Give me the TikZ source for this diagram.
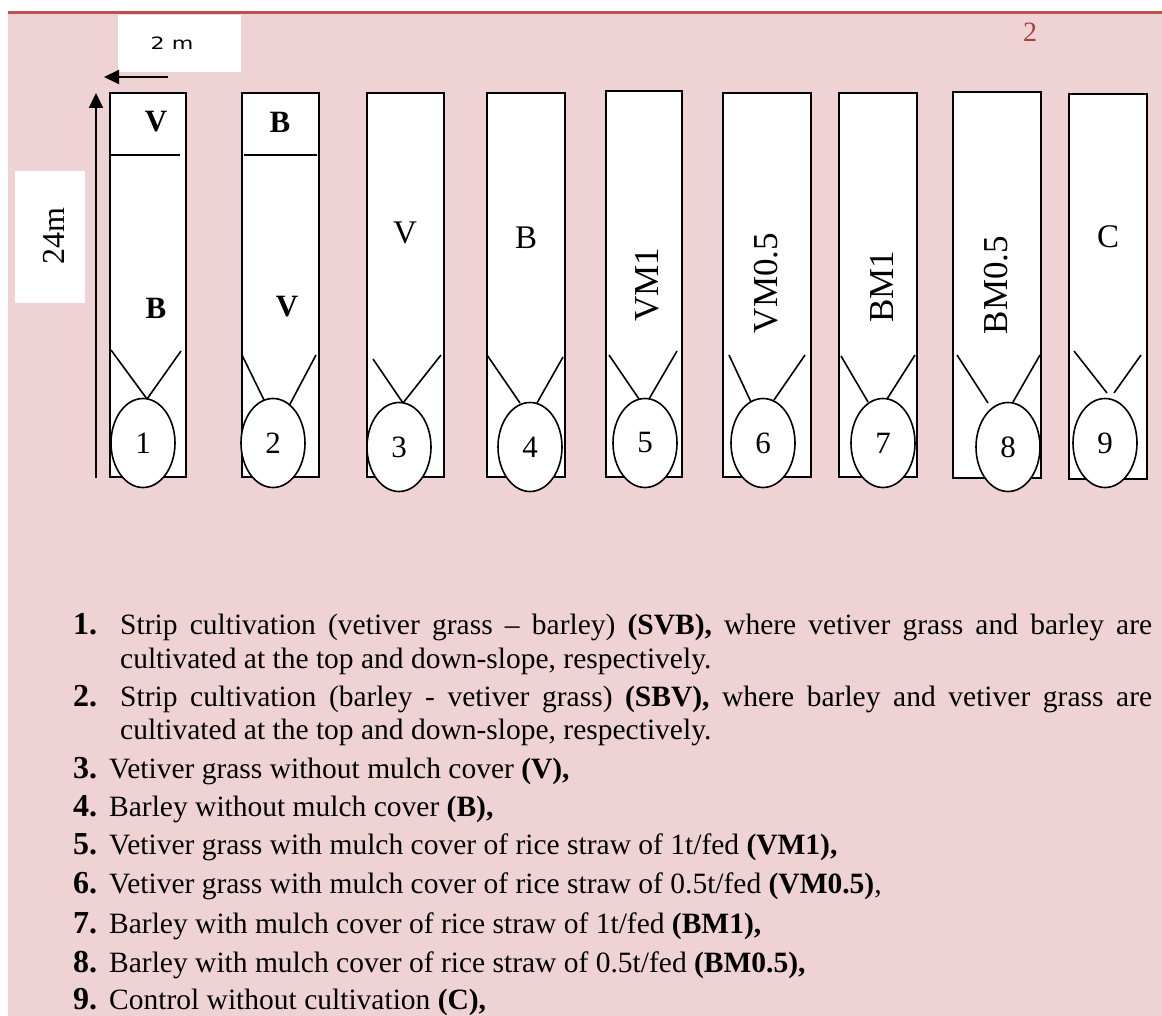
\documentclass[tikz,border=0pt]{standalone}
\usepackage{fontspec}
\setmainfont{Liberation Serif}
\newfontfamily\sansf{DejaVu Sans}
\usetikzlibrary{shapes.geometric,arrows.meta}
\definecolor{pinkbg}{HTML}{EFD3D4}
\definecolor{redline}{HTML}{C0504D}
\definecolor{pagenum}{HTML}{A8403D}
\begin{document}
\begin{tikzpicture}[x=1pt,y=-1pt,
 stripbox/.style={draw, line width=1.8pt, fill=white, anchor=north west, inner sep=0pt, outer sep=0pt},
 ellnum/.style={ellipse, draw, line width=1.6pt, fill=white, minimum width=64pt, minimum height=89pt, inner sep=0pt, font=\fontsize{31}{36}\selectfont},
 funnel/.style={line width=1.6pt},
 lbl/.style={font=\fontsize{33}{38}\selectfont, inner sep=0pt},
 blbl/.style={font=\bfseries\fontsize{31}{36}\selectfont, inner sep=0pt},
 rlbl/.style={font=\fontsize{35}{40}\selectfont, inner sep=0pt, rotate=90},
 inum/.style={anchor=base west, inner sep=0pt, font=\bfseries\fontsize{32}{36}\selectfont},
 itxt/.style={anchor=base west, inner sep=0pt, font=\fontsize{29.5}{34}\selectfont},
 whitebox/.style={fill=white, draw=none, anchor=north west, inner sep=0pt},
 arr/.style={line width=2pt, -{Triangle[length=15pt,width=14pt]}}
]
\useasboundingbox (0,0) rectangle (1162,1016);
\fill[pinkbg] (8,14) rectangle (1162,1016);
\draw[redline, line width=3pt] (8,12.5) -- (1162,12.5);
\node[text=pagenum, font=\fontsize{28}{32}\selectfont, inner sep=0pt] (pg) at (1030,32) {2};

% scale boxes
\node[whitebox, minimum width=123pt, minimum height=57pt] (bx2m) at (118,15) {};
\node[font=\sansf\fontsize{17}{20}\selectfont, inner sep=0pt] (l2m) at (172,43) {\scalebox{1.3}[1]{2 m}};
\node[whitebox, minimum width=70pt, minimum height=132pt] (bx24) at (15,171) {};
\node[inner sep=0pt, rotate=90, font=\fontsize{32}{36}\selectfont] (l24) at (54,236) {24m};
\coordinate (a2s) at (168,77);
\coordinate (a2e) at (104,77);
\draw[arr] (a2s) -- (a2e);
\coordinate (a24s) at (96,478);
\coordinate (a24e) at (96,93);
\draw[arr] (a24s) -- (a24e);

% strips
\node[stripbox, minimum width=76pt, minimum height=384pt] (s1) at (110,93) {};
\node[stripbox, minimum width=77pt, minimum height=384pt] (s2) at (242,93) {};
\node[stripbox, minimum width=77pt, minimum height=384pt] (s3) at (367,93) {};
\node[stripbox, minimum width=78pt, minimum height=384pt] (s4) at (487,93) {};
\node[stripbox, minimum width=76pt, minimum height=386pt] (s5) at (606,91) {};
\node[stripbox, minimum width=88pt, minimum height=384pt] (s6) at (723,93) {};
\node[stripbox, minimum width=78pt, minimum height=384pt] (s7) at (839,93) {};
\node[stripbox, minimum width=88pt, minimum height=386pt] (s8) at (953,92) {};
\node[stripbox, minimum width=78pt, minimum height=385pt] (s9) at (1069,94) {};

% dividers in strips 1 and 2
\draw[line width=1.8pt] (110,155) -- (180,155);
\draw[line width=1.8pt] (244,155) -- (317,155);

% labels
\node[blbl] (t1a) at (156,122) {V};
\node[blbl] (t1b) at (156,308) {B};
\node[blbl] (t2a) at (280,122) {B};
\node[blbl] (t2b) at (287,307) {V};
\node[lbl] (t3) at (405,233) {V};
\node[lbl] (t4) at (526,238) {B};
\node[rlbl] (t5) at (647,285) {VM1};
\node[rlbl] (t6) at (766,283) {VM0.5};
\node[rlbl] (t7) at (882,287) {BM1};
\node[rlbl] (t8) at (996,285) {BM0.5};
\node[lbl] (t9) at (1108,237) {C};

% funnel lines
\draw[funnel] (111,350) -- (147,399) -- (181,351);
\draw[funnel] (242,355) -- (264,400);
\draw[funnel] (316,355) -- (289,406);
\draw[funnel] (373,359) -- (403,403) -- (441,355);
\draw[funnel] (487,355) -- (520,403);
\draw[funnel] (563,357) -- (537,403);
\draw[funnel] (609,355) -- (639,399);
\draw[funnel] (677,351) -- (649,399);
\draw[funnel] (729,355) -- (751,402);
\draw[funnel] (805,355) -- (774,400);
\draw[funnel] (841,356) -- (868,402);
\draw[funnel] (915,355) -- (887,399);
\draw[funnel] (957,355) -- (988,403);
\draw[funnel] (1040,355) -- (1013,402);
\draw[funnel] (1074,351) -- (1107,393);
\draw[funnel] (1141,355) -- (1114,393);

% ellipses
\node[ellnum] (e1) at (143,443) {1};
\node[ellnum] (e2) at (273,443) {2};
\node[ellnum] (e3) at (399,447) {3};
\node[ellnum] (e4) at (530,447) {4};
\node[ellnum] (e5) at (645,443) {5};
\node[ellnum] (e6) at (763,443) {6};
\node[ellnum] (e7) at (883,443) {7};
\node[ellnum] (e8) at (1008,447) {8};
\node[ellnum] (e9) at (1105,443) {9};

% legend
\node[inum] (n1) at (73,634) {1.};
\node[itxt] (i1a) at (120,634) {\makebox[1032pt][s]{Strip cultivation (vetiver grass -- barley) \textbf{(SVB),} where vetiver grass and barley are}};
\node[itxt] (i1b) at (120,668) {cultivated at the top and down-slope, respectively.};
\node[inum] (n2) at (73,706) {2.};
\node[itxt] (i2a) at (120,706) {\makebox[1032pt][s]{Strip cultivation (barley - vetiver grass) \textbf{(SBV),} where barley and vetiver grass are}};
\node[itxt] (i2b) at (120,739) {cultivated at the top and down-slope, respectively.};
\node[inum] (n3) at (73,778) {3.};
\node[itxt] (i3) at (109,778) {Vetiver grass without mulch cover \textbf{(V),}};
\node[inum] (n4) at (73,816) {4.};
\node[itxt] (i4) at (109,816) {Barley without mulch cover \textbf{(B),}};
\node[inum] (n5) at (73,854) {5.};
\node[itxt] (i5) at (109,854) {Vetiver grass with mulch cover of rice straw of 1t/fed \textbf{(VM1),}};
\node[inum] (n6) at (73,893) {6.};
\node[itxt] (i6) at (109,893) {Vetiver grass with mulch cover of rice straw of 0.5t/fed \textbf{(VM0.5)},};
\node[inum] (n7) at (73,933) {7.};
\node[itxt] (i7) at (109,933) {Barley with mulch cover of rice straw of 1t/fed \textbf{(BM1),}};
\node[inum] (n8) at (73,972) {8.};
\node[itxt] (i8) at (109,972) {Barley with mulch cover of rice straw of 0.5t/fed \textbf{(BM0.5),}};
\node[inum] (n9) at (73,1009) {9.};
\node[itxt] (i9) at (109,1009) {Control without cultivation \textbf{(C),}};
\end{tikzpicture}
\end{document}
